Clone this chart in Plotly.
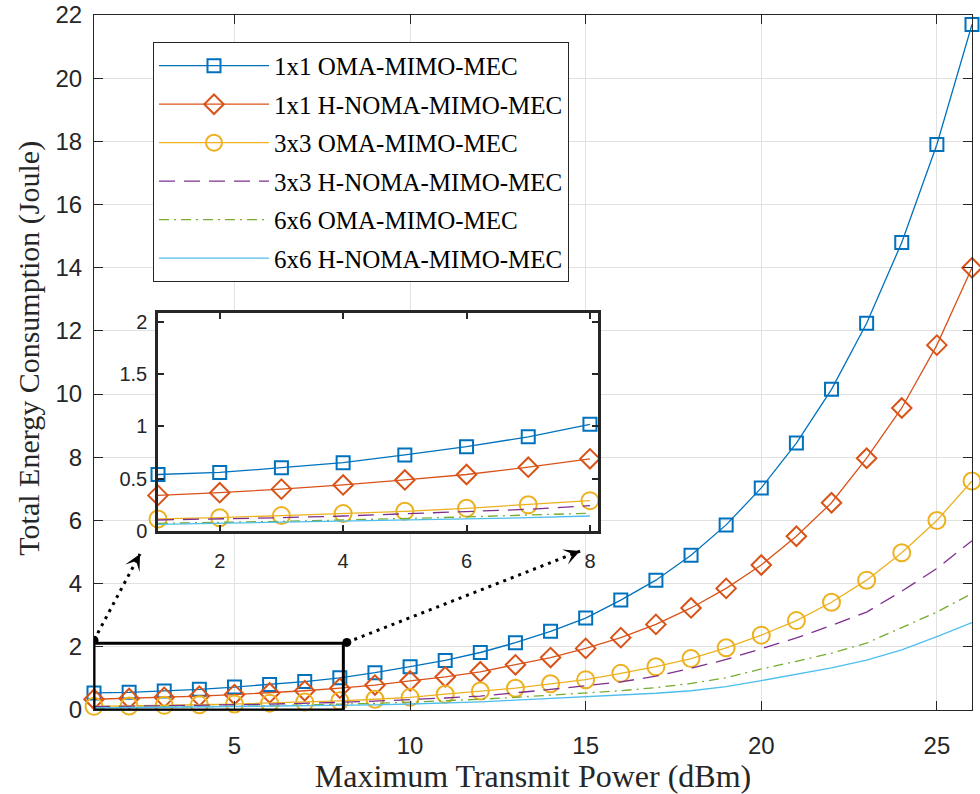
import plotly.graph_objects as go

# ---------------- data ----------------
power_dbm = list(range(1, 27))

oma_1x1 = [0.54, 0.56, 0.605, 0.653, 0.727, 0.806, 0.90, 1.02, 1.18, 1.37, 1.57, 1.82,
           2.13, 2.49, 2.91, 3.48, 4.11, 4.90, 5.86, 7.03, 8.45, 10.15, 12.24, 14.8, 17.9, 21.7]
noma_1x1 = [0.34, 0.366, 0.40, 0.44, 0.488, 0.54, 0.61, 0.69, 0.79, 0.92, 1.05, 1.21,
            1.43, 1.66, 1.95, 2.29, 2.71, 3.23, 3.85, 4.59, 5.50, 6.56, 7.97, 9.56, 11.55, 14.0]
oma_3x3 = [0.115, 0.127, 0.147, 0.166, 0.188, 0.217, 0.25, 0.29, 0.34, 0.40, 0.50, 0.60,
           0.69, 0.83, 0.96, 1.16, 1.37, 1.63, 1.97, 2.37, 2.83, 3.41, 4.11, 4.98, 6.0, 7.25]
noma_3x3 = [0.105, 0.115, 0.127, 0.143, 0.166, 0.185, 0.207, 0.242, 0.28, 0.32, 0.38, 0.44,
            0.54, 0.65, 0.77, 0.89, 1.07, 1.32, 1.60, 1.94, 2.28, 2.68, 3.10, 3.76, 4.48, 5.36]
oma_6x6 = [0.073, 0.08, 0.092, 0.105, 0.118, 0.134, 0.153, 0.169, 0.21, 0.25, 0.29, 0.34,
           0.40, 0.47, 0.54, 0.61, 0.71, 0.84, 1.02, 1.30, 1.54, 1.80, 2.12, 2.60, 3.10, 3.69]
noma_6x6 = [0.064, 0.073, 0.083, 0.092, 0.105, 0.115, 0.127, 0.143, 0.16, 0.19, 0.22, 0.26,
            0.31, 0.36, 0.42, 0.47, 0.53, 0.61, 0.74, 0.93, 1.12, 1.33, 1.58, 1.90, 2.32, 2.77]

series_names = ["1x1 OMA-MIMO-MEC", "1x1 H-NOMA-MIMO-MEC", "3x3 OMA-MIMO-MEC",
                "3x3 H-NOMA-MIMO-MEC", "6x6 OMA-MIMO-MEC", "6x6 H-NOMA-MIMO-MEC"]
series_values = [oma_1x1, noma_1x1, oma_3x3, noma_3x3, oma_6x6, noma_6x6]

main_xticks = [5, 10, 15, 20, 25]
main_yticks = list(range(0, 23, 2))
inset_xticks = [2, 4, 6, 8]
inset_yticks = [0, 0.5, 1, 1.5, 2]
inset_ytext = ["0", "0.5", "1", "1.5", "2"]
inset_npts = 8  # points shown in the zoomed inset (1..8 dBm)

# ---------------- styles ----------------
colors = ["#0072BD", "#D95319", "#EDB120", "#7E2F8E", "#77AC30", "#4DBEEE"]
styles = [
    dict(mode="lines+markers", dash="solid", symbol="square-open", size=13),
    dict(mode="lines+markers", dash="solid", symbol="diamond-open", size=15),
    dict(mode="lines+markers", dash="solid", symbol="circle-open", size=17),
    dict(mode="lines", dash="16px,9px", symbol=None, size=0),
    dict(mode="lines", dash="10px,5px,2px,5px", symbol=None, size=0),
    dict(mode="lines", dash="solid", symbol=None, size=0),
]

AX = "#262626"
GRID = "#e1e1e1"
TICKFONT = dict(family="Liberation Sans, Arial, sans-serif", size=24, color=AX)
SERIF = "Liberation Serif, Times New Roman, serif"

fig = go.Figure()

for i, (name, vals) in enumerate(zip(series_names, series_values)):
    st = styles[i]
    mk = dict(symbol=st["symbol"], size=st["size"], color=colors[i],
              line=dict(width=2, color=colors[i])) if st["symbol"] else None
    fig.add_trace(go.Scatter(
        x=power_dbm, y=vals, name=name, mode=st["mode"],
        line=dict(color=colors[i], width=1.3, dash=st["dash"]),
        marker=mk, cliponaxis=False, legendgroup=f"g{i}",
        xaxis="x", yaxis="y"))
    fig.add_trace(go.Scatter(
        x=power_dbm[:inset_npts], y=vals[:inset_npts], name=name, mode=st["mode"],
        line=dict(color=colors[i], width=1.3, dash=st["dash"]),
        marker=mk, cliponaxis=False, showlegend=False,
        xaxis="x2", yaxis="y2"))

# ---------------- zoom box & arrows ----------------
box_x = (1, 8.1)
box_y = (0, 2.11)
fig.add_shape(type="rect", xref="x", yref="y", x0=box_x[0], x1=box_x[1], y0=box_y[0], y1=box_y[1],
              line=dict(color="black", width=3), layer="above")

arrows = [  # (start x, start y, tip x, tip y, tail dx px, tail dy px)
    (1.0, 2.21, 2.31, 4.94, -4.7, 8.8),
    (8.2, 2.14, 14.84, 5.03, -9.3, 3.6),
]
for sx, sy, tx, ty, adx, ady in arrows:
    fig.add_shape(type="line", xref="x", yref="y", x0=sx, y0=sy, x1=tx, y1=ty,
                  line=dict(color="black", width=3, dash="3px,5px"), layer="above")
    fig.add_shape(type="circle", xref="x", yref="y", xsizemode="pixel", ysizemode="pixel",
                  xanchor=sx, yanchor=sy, x0=-4.5, x1=4.5, y0=-4.5, y1=4.5,
                  fillcolor="black", line=dict(color="black", width=0), layer="above")
    fig.add_annotation(x=tx, y=ty, xref="x", yref="y", ax=adx, ay=ady, text="",
                       showarrow=True, arrowhead=3, arrowsize=1.8, arrowwidth=1.5,
                       arrowcolor="black")

# y axis title as annotation
fig.add_annotation(text="Total Energy Consumption (Joule)", xref="paper", yref="paper",
                   x=-0.074, y=0.52, textangle=-90, showarrow=False,
                   font=dict(family=SERIF, size=30, color=AX), xanchor="center", yanchor="middle")

fig.update_layout(
    width=980, height=794,
    margin=dict(l=94, r=8, t=15, b=84, autoexpand=False),
    paper_bgcolor="white", plot_bgcolor="white",
    showlegend=True,
    legend=dict(x=0.0672, y=0.9612, xanchor="left", yanchor="top",
                bgcolor="white", bordercolor=AX, borderwidth=1,
                font=dict(family=SERIF, size=25, color="black"),
                tracegroupgap=3, itemwidth=110, entrywidth=430, entrywidthmode="pixels"),
    xaxis=dict(domain=[0, 1], range=[1, 26], tickvals=main_xticks, ticks="inside", ticklen=9,
               tickcolor=AX, showline=True, linecolor=AX, linewidth=1, mirror="ticks",
               showgrid=True, gridcolor=GRID, gridwidth=1, zeroline=False, automargin=False,
               tickfont=TICKFONT, ticklabelstandoff=14,
               title=dict(text="Maximum Transmit Power (dBm)", font=dict(family=SERIF, size=32, color=AX),
                          standoff=2)),
    yaxis=dict(domain=[0, 1], range=[0, 22], tickvals=main_yticks, ticks="inside", ticklen=9,
               tickcolor=AX, showline=True, linecolor=AX, linewidth=1, mirror="ticks",
               showgrid=True, gridcolor=GRID, gridwidth=1, zeroline=False, automargin=False,
               tickfont=TICKFONT, ticklabelstandoff=6),
    xaxis2=dict(domain=[0.0729, 0.574], range=[1, 8.13], anchor="y2", tickvals=inset_xticks,
                ticks="inside", ticklen=6, tickwidth=2, tickcolor=AX, showline=True, linecolor=AX,
                linewidth=2.5, mirror="ticks", showgrid=False, zeroline=False, automargin=False,
                tickfont=dict(family="Liberation Sans, Arial, sans-serif", size=20, color=AX),
                ticklabelstandoff=10),
    yaxis2=dict(domain=[0.2576, 0.5712], range=[0, 2.084], anchor="x2", tickvals=inset_yticks,
                ticktext=inset_ytext, ticks="inside", ticklen=6, tickwidth=2, tickcolor=AX,
                showline=True, linecolor=AX, linewidth=2.5, mirror="ticks", showgrid=False,
                zeroline=False, automargin=False,
                tickfont=dict(family="Liberation Sans, Arial, sans-serif", size=20, color=AX),
                ticklabelstandoff=4),
)

fig.write_html("out.html")
